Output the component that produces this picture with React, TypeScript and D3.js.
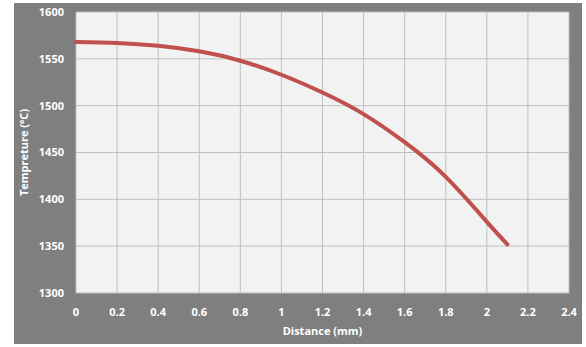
import React from 'react';
import * as d3 from 'd3';

// Values
const distance = [0, 0.2, 0.4, 0.6, 0.8, 1.0, 1.2, 1.4, 1.6, 1.8, 2.0, 2.1];
const temperature = [1568, 1567, 1564, 1558, 1548, 1533, 1514, 1491, 1461, 1424, 1376, 1352];
const xTicks = [0, 0.2, 0.4, 0.6, 0.8, 1, 1.2, 1.4, 1.6, 1.8, 2, 2.2, 2.4];
const yTicks = [1300, 1350, 1400, 1450, 1500, 1550, 1600];

const W = 586;
const H = 347;
const FONT = '"Open Sans", "DejaVu Sans", sans-serif';

const App: React.FC = () => {
  const plot = { left: 76, right: 569, top: 12, bottom: 293 };

  const x = d3.scaleLinear().domain([0, 2.4]).range([plot.left, plot.right]);
  const y = d3.scaleLinear().domain([1300, 1600]).range([plot.bottom, plot.top]);

  const line = d3.line<number>()
    .x((d, i) => x(distance[i]))
    .y(d => y(d))
    .curve(d3.curveNatural);

  return (
    <svg width={W} height={H} style={{ position: 'absolute', left: 0, top: 0 }}>
      <rect x={0} y={0} width={W} height={H} fill="#ffffff" />
      {/* outer chart area */}
      <rect x={14} y={3} width={568} height={341} fill="#7f7f7f" />
      {/* plot area */}
      <rect x={plot.left} y={plot.top} width={plot.right - plot.left} height={plot.bottom - plot.top} fill="#f2f2f2" />

      {/* grid */}
      {xTicks.map(t => (
        <line key={'gx' + t} x1={x(t)} x2={x(t)} y1={plot.top} y2={plot.bottom} stroke="#bfbfbf" strokeWidth={1} />
      ))}
      {yTicks.map(t => (
        <line key={'gy' + t} x1={plot.left} x2={plot.right} y1={y(t)} y2={y(t)} stroke="#bfbfbf" strokeWidth={1} />
      ))}

      {/* curve */}
      <path d={line(temperature) || ''} fill="none" stroke="#c0504d" strokeWidth={4} strokeLinecap="round" />

      {/* tick labels */}
      {yTicks.map(t => (
        <text key={'ty' + t} x={64} y={y(t)} dy="0.35em" textAnchor="end" fill="#ffffff"
          fontFamily={FONT} fontWeight="bold" fontSize={11}>{t}</text>
      ))}
      {xTicks.map(t => (
        <text key={'tx' + t} x={x(t)} y={312} dy="0.35em" textAnchor="middle" fill="#ffffff"
          fontFamily={FONT} fontWeight="bold" fontSize={11}>{t}</text>
      ))}

      {/* axis titles */}
      <text x={(plot.left + plot.right) / 2} y={331} dy="0.35em" textAnchor="middle" fill="#ffffff"
        fontFamily={FONT} fontWeight="bold" fontSize={11}>Distance (mm)</text>
      <text transform={`translate(24, ${(plot.top + plot.bottom) / 2}) rotate(-90)`} dy="0.35em" textAnchor="middle"
        fill="#ffffff" fontFamily={FONT} fontWeight="bold" fontSize={11}>Tempreture (ºC)</text>
    </svg>
  );
};

export default App;
